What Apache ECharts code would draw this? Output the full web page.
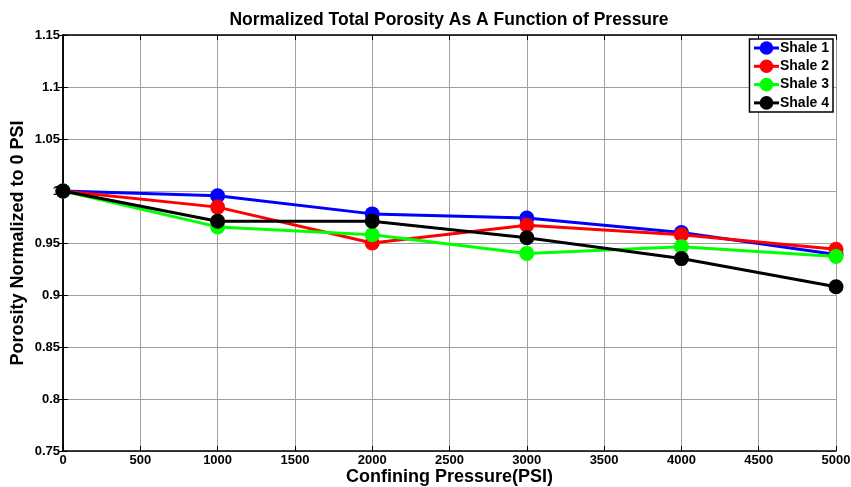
<!DOCTYPE html>
<html><head><meta charset="utf-8">
<script src="https://cdn.jsdelivr.net/npm/echarts@6/dist/echarts.min.js"></script>
<style>html,body{margin:0;padding:0;background:#fff}#c{width:851px;height:487px}</style>
</head><body><div id="c"></div>
<script>
const pressures = [0, 1000, 2000, 3000, 4000, 5000];
const shale1 = [1.000, 0.9955, 0.978, 0.974, 0.960, 0.939];
const shale2 = [1.000, 0.9845, 0.950, 0.967, 0.958, 0.944];
const shale3 = [1.000, 0.9655, 0.958, 0.940, 0.9465, 0.937];
const shale4 = [1.000, 0.971, 0.971, 0.955, 0.935, 0.908];
const seriesNames = ['Shale 1', 'Shale 2', 'Shale 3', 'Shale 4'];
const seriesColors = ['#0000ff', '#ff0000', '#00ff00', '#000000'];
const allValues = [shale1, shale2, shale3, shale4];

const FONT = '"Liberation Sans", Arial, sans-serif';
const chart = echarts.init(document.getElementById('c'));
const axisCommon = {
  axisLine: {show: true, lineStyle: {color: '#000', width: 1.5}},
  axisTick: {show: true, inside: true, length: 5, lineStyle: {color: '#000', width: 1}},
};
chart.setOption({
  animation: false,
  backgroundColor: '#fff',
  title: {
    text: 'Normalized Total Porosity As A Function of Pressure',
    left: 444, top: 6, textAlign: 'center',
    textStyle: {fontFamily: FONT, fontWeight: 'bold', fontSize: 17.5, color: '#000'}
  },
  grid: {left: 63, right: 15, top: 35, bottom: 36, containLabel: false, outerBoundsMode: 'none'},
  legend: {
    orient: 'vertical', right: 18, top: 39,
    backgroundColor: '#fff', borderColor: '#000', borderWidth: 1.5,
    padding: [2, 4, 2, 3], itemGap: 4.3, itemWidth: 25, itemHeight: 17,
    lineStyle: {width: 3},
    textStyle: {fontFamily: FONT, fontWeight: 'bold', fontSize: 14, color: '#000', padding: [0, 0, 0, -4]},
    data: seriesNames
  },
  xAxis: [{
    type: 'value', min: 0, max: 5000, interval: 500,
    name: 'Confining Pressure(PSI)', nameLocation: 'middle', nameGap: 17, nameMoveOverlap: false,
    nameTextStyle: {fontFamily: FONT, fontWeight: 'bold', fontSize: 18, color: '#000'},
    ...axisCommon,
    axisLabel: {margin: 3, fontFamily: FONT, fontWeight: 'bold', fontSize: 13, color: '#000',
      formatter: v => String(v)},
    splitLine: {show: true, lineStyle: {color: '#a0a0a0', width: 1}}
  }, {
    type: 'value', min: 0, max: 5000, interval: 500, position: 'top',
    ...axisCommon, axisLabel: {show: false}, splitLine: {show: false}
  }],
  yAxis: [{
    type: 'value', min: 0.75, max: 1.15, interval: 0.05,
    name: 'Porosity Normalized to 0 PSI', nameLocation: 'middle', nameGap: 36, nameMoveOverlap: false,
    nameTextStyle: {fontFamily: FONT, fontWeight: 'bold', fontSize: 18, color: '#000'},
    ...axisCommon,
    axisLabel: {margin: 3, fontFamily: FONT, fontWeight: 'bold', fontSize: 13, color: '#000',
      formatter: v => String(parseFloat(v.toFixed(2)))},
    splitLine: {show: true, lineStyle: {color: '#a0a0a0', width: 1}}
  }, {
    type: 'value', min: 0.75, max: 1.15, interval: 0.05, position: 'right',
    ...axisCommon, axisLabel: {show: false}, splitLine: {show: false}
  }],
  series: allValues.map((vals, i) => ({
    name: seriesNames[i], type: 'line', xAxisIndex: 0, yAxisIndex: 0,
    data: pressures.map((p, j) => [p, vals[j]]),
    symbol: 'circle', symbolSize: 15, showSymbol: true,
    lineStyle: {color: seriesColors[i], width: 3},
    itemStyle: {color: seriesColors[i], borderWidth: 0},
    z: 3 + i
  }))
});
</script></body></html>
